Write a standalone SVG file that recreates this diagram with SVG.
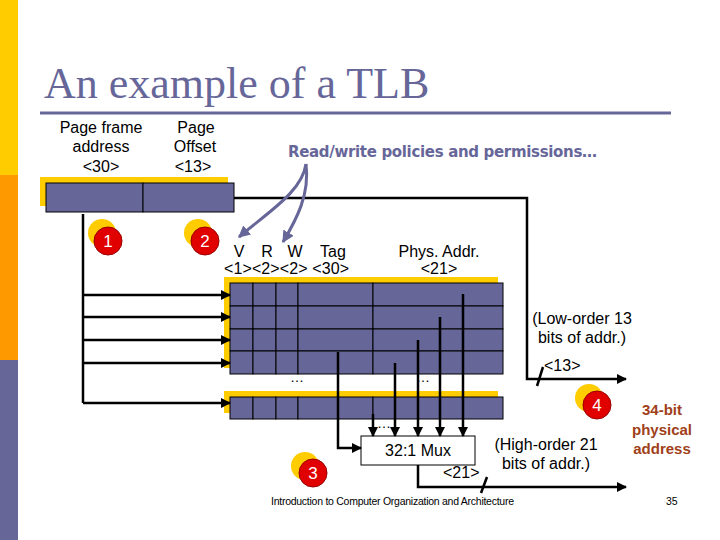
<svg xmlns="http://www.w3.org/2000/svg" width="720" height="540" viewBox="0 0 720 540">
<defs>
<style>
.t{font-family:"Liberation Sans",Arial,sans-serif;font-size:16px;fill:#000}
.c{text-anchor:middle}
.cell{fill:#666699;stroke:#000;stroke-width:1}
.sh{fill:#FFCC00}
.w{fill:none;stroke:#000;stroke-width:2.5}
.red{fill:#E00000;stroke:#990000;stroke-width:1}
.num{font-family:"Liberation Sans",Arial,sans-serif;font-size:17px;fill:#fff;text-anchor:middle}
.dots{font-family:"Liberation Sans",Arial,sans-serif;font-size:14px;fill:#000;text-anchor:middle}
</style>
<marker id="ah" viewBox="0 0 10 10" refX="9" refY="5" markerWidth="4" markerHeight="4" orient="auto" markerUnits="strokeWidth">
<path d="M0,0 L10,5 L0,10 z" fill="#000"/>
</marker>
<marker id="ap" viewBox="0 0 10 10" refX="9" refY="5" markerWidth="4" markerHeight="4" orient="auto" markerUnits="strokeWidth">
<path d="M0,0 L10,5 L0,10 z" fill="#666699"/>
</marker>
</defs>
<rect width="720" height="540" fill="#fff"/>
<g id="sidebar">
<rect x="0" y="0" width="18" height="175" fill="#FFCC00"/>
<rect x="0" y="175" width="18" height="185" fill="#FF9900"/>
<rect x="0" y="360" width="18" height="180" fill="#666699"/>
</g>
<g id="title">
<text x="44" y="98" font-family="'Liberation Serif','Times New Roman',serif" font-size="44" fill="#666699">An example of a TLB</text>
<rect x="40" y="111.5" width="631" height="3" fill="#666699"/>
</g>
<g id="vaddr">
<rect class="sh" x="40" y="177" width="188" height="29"/>
<rect class="cell" x="46" y="183" width="97" height="29"/>
<rect class="cell" x="143" y="183" width="91" height="29"/>
<text class="t c" x="101" y="133">Page frame</text>
<text class="t c" x="101" y="152">address</text>
<text class="t c" x="101" y="172">&lt;30&gt;</text>
<text class="t c" x="196" y="133">Page</text>
<text class="t c" x="195" y="152">Offset</text>
<text class="t c" x="193" y="172">&lt;13&gt;</text>
</g>
<g id="tlb">
<rect class="sh" x="224" y="277" width="274" height="91"/>
<g>
<rect class="cell" x="230" y="283" width="23" height="23"/><rect class="cell" x="253" y="283" width="23" height="23"/><rect class="cell" x="276" y="283" width="22" height="23"/><rect class="cell" x="298" y="283" width="75" height="23"/><rect class="cell" x="373" y="283" width="130" height="23"/>
<rect class="cell" x="230" y="306" width="23" height="23"/><rect class="cell" x="253" y="306" width="23" height="23"/><rect class="cell" x="276" y="306" width="22" height="23"/><rect class="cell" x="298" y="306" width="75" height="23"/><rect class="cell" x="373" y="306" width="130" height="23"/>
<rect class="cell" x="230" y="329" width="23" height="22"/><rect class="cell" x="253" y="329" width="23" height="22"/><rect class="cell" x="276" y="329" width="22" height="22"/><rect class="cell" x="298" y="329" width="75" height="22"/><rect class="cell" x="373" y="329" width="130" height="22"/>
<rect class="cell" x="230" y="351" width="23" height="23"/><rect class="cell" x="253" y="351" width="23" height="23"/><rect class="cell" x="276" y="351" width="22" height="23"/><rect class="cell" x="298" y="351" width="75" height="23"/><rect class="cell" x="373" y="351" width="130" height="23"/>
</g>
<rect class="sh" x="224" y="391" width="274" height="22"/>
<rect class="cell" x="230" y="397" width="23" height="22"/><rect class="cell" x="253" y="397" width="23" height="22"/><rect class="cell" x="276" y="397" width="22" height="22"/><rect class="cell" x="298" y="397" width="75" height="22"/><rect class="cell" x="373" y="397" width="130" height="22"/>
<text class="t" x="239" y="257" text-anchor="middle">V</text>
<text class="t" x="267" y="257" text-anchor="middle">R</text>
<text class="t" x="295" y="257" text-anchor="middle">W</text>
<text class="t" x="333" y="257" text-anchor="middle">Tag</text>
<text class="t" x="224" y="274" textLength="125">&lt;1&gt;&lt;2&gt;&lt;2&gt; &lt;30&gt;</text>
<text class="t c" x="439" y="257">Phys. Addr.</text>
<text class="t c" x="439" y="274">&lt;21&gt;</text>
<text class="dots" x="297" y="382">…</text>
<text class="dots" x="423" y="382">…</text>
<text class="dots" x="384" y="428">…</text>
</g>
<g id="mux">
<rect x="361" y="436" width="114" height="29" fill="#fff" stroke="#000" stroke-width="1"/>
<text class="t c" x="418" y="456">32:1 Mux</text>
</g>
<g id="marker1"><circle cx="102" cy="233" r="14" fill="#FFCC00"/><circle class="red" cx="108" cy="241" r="14"/><text class="num" x="108" y="247">1</text></g>
<g id="marker2"><circle cx="198" cy="233" r="14" fill="#FFCC00"/><circle class="red" cx="205" cy="241" r="14"/><text class="num" x="205" y="247">2</text></g>
<g id="marker3"><circle cx="305" cy="466" r="14" fill="#FFCC00"/><circle class="red" cx="313" cy="473" r="14"/><text class="num" x="313" y="479">3</text></g>
<g id="marker4"><circle cx="589" cy="398" r="14" fill="#FFCC00"/><circle class="red" cx="597" cy="405" r="14"/><text class="num" x="597" y="411">4</text></g>
<g id="labels">
<text x="288" y="157" font-family="'DejaVu Sans',sans-serif" font-weight="bold" font-size="15" fill="#666699" textLength="309">Read/write policies and permissions…</text>
<text class="t c" x="582" y="324">(Low-order 13</text>
<text class="t c" x="582" y="343">bits of addr.)</text>
<text class="t" x="544" y="371">&lt;13&gt;</text>
<text class="t c" x="546" y="450">(High-order 21</text>
<text class="t c" x="546" y="469">bits of addr.)</text>
<text class="t" x="443" y="478">&lt;21&gt;</text>
<g font-family="'Liberation Sans',Arial,sans-serif" font-weight="bold" font-size="15" fill="#A0401A" text-anchor="middle">
<text x="662" y="415">34-bit</text>
<text x="662" y="435">physical</text>
<text x="662" y="454">address</text>
</g>
<text x="271" y="505" font-family="'Liberation Sans',Arial,sans-serif" font-size="10.5" textLength="243">Introduction to Computer Organization and Architecture</text>
<text x="666" y="505" font-family="'Liberation Sans',Arial,sans-serif" font-size="10.5">35</text>
</g>
<g id="connectors">
<path class="w" d="M234,198 H527 V379 H626" marker-end="url(#ah)"/>
<path class="w" d="M543,367 L537,386"/>
<path class="w" d="M83,214 V403"/>
<path class="w" d="M83,295 H230" marker-end="url(#ah)"/>
<path class="w" d="M83,317 H230" marker-end="url(#ah)"/>
<path class="w" d="M83,340 H230" marker-end="url(#ah)"/>
<path class="w" d="M83,363 H230" marker-end="url(#ah)"/>
<path class="w" d="M83,403 H230" marker-end="url(#ah)"/>
<path class="w" stroke-width="3" d="M338,352 V448 H361" marker-end="url(#ah)"/>
<path class="w" d="M373,414 V436" marker-end="url(#ah)"/>
<path class="w" d="M395,363 V436" marker-end="url(#ah)"/>
<path class="w" d="M418,340 V436" marker-end="url(#ah)"/>
<path class="w" d="M440,317 V436" marker-end="url(#ah)"/>
<path class="w" d="M463,294 V436" marker-end="url(#ah)"/>
<path class="w" d="M418,465 V487 H626" marker-end="url(#ah)"/>
<path class="w" d="M487,477 L481,493"/>
<path d="M306,164 C302,192 268,212 239,237" fill="none" stroke="#666699" stroke-width="3" marker-end="url(#ap)"/>
<path d="M306,164 C310,195 296,220 283,242" fill="none" stroke="#666699" stroke-width="3" marker-end="url(#ap)"/>
</g>
</svg>
